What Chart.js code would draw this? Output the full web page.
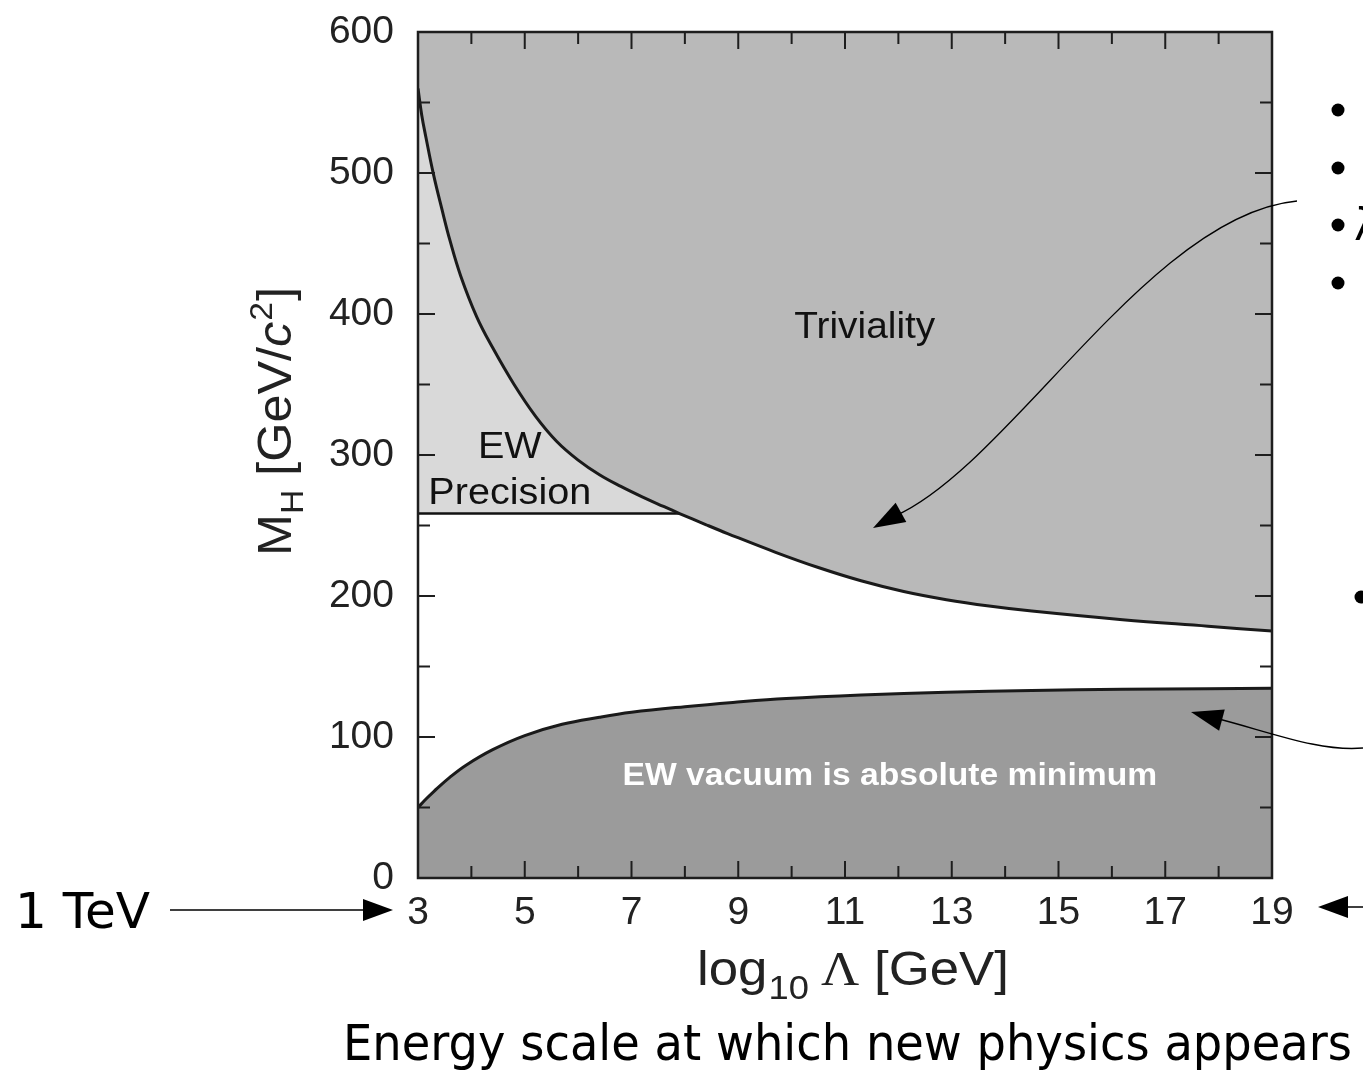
<!DOCTYPE html>
<html>
<head>
<meta charset="utf-8">
<script src="https://cdn.jsdelivr.net/npm/chart.js@4.4.0/dist/chart.umd.min.js"></script>
<style>
html, body { margin: 0; padding: 0; background: #fff; }
</style>
</head>
<body>
<canvas id="myChart" width="1363" height="1070"></canvas>
<script>
// triviality bound (upper curve)
var trivX = [3, 3.07, 3.15, 3.29, 3.45, 3.6, 3.8, 4.1, 4.4, 4.8, 5.2, 5.6, 6.0, 6.4, 6.8, 7.2, 7.6, 7.9, 8.4, 8.8, 9.7, 10.5, 11.3, 12.1, 12.9, 13.7, 14.5, 16.2, 17.8, 19];
var trivY = [560, 541, 525, 499, 474, 452, 427, 398, 376, 350, 327.6, 309.6, 296.4, 286, 277.7, 270.3, 263.5, 258.5, 250.5, 244.3, 231, 220.2, 210.8, 203.2, 197.4, 192.9, 189.3, 183.2, 178.6, 175.1];

// EW precision limit
var ewX = [3, 7.9];
var ewY = [258.5, 258.5];

// vacuum stability bound (lower curve)
var vacX = [3, 3.15, 3.3, 3.6, 3.9, 4.4, 5.0, 5.7, 6.4, 7.0, 8.0, 8.9, 9.9, 11.3, 12.9, 14.5, 16.2, 17.8, 19];
var vacY = [50, 56, 61.5, 71.5, 80, 91, 101, 109, 114, 117.5, 121.5, 124.5, 127.3, 129.8, 131.8, 133, 133.8, 134.3, 134.5];

// axis ticks
var xTicks = [3, 5, 7, 9, 11, 13, 15, 17, 19];
var xMinor = [4, 6, 8, 10, 12, 14, 16, 18];
var yTicks = [0, 100, 200, 300, 400, 500, 600];
var yMinor = [50, 150, 250, 350, 450, 550];

function pts(xs, ys) {
    var out = [];
    for (var i = 0; i < xs.length; i++) out.push({x: xs[i], y: ys[i]});
    return out;
}

function arrowHead(ctx, tx, ty, fx, fy, len, hw) {
    var a = Math.atan2(ty - fy, tx - fx);
    ctx.save();
    ctx.translate(tx, ty);
    ctx.rotate(a);
    ctx.beginPath();
    ctx.moveTo(0, 0);
    ctx.lineTo(-len, -hw);
    ctx.lineTo(-len, hw);
    ctx.closePath();
    ctx.fill();
    ctx.restore();
}

// text squeezed/stretched to a given width, x is the left edge
function fitText(ctx, txt, x, y, font, w) {
    ctx.save();
    ctx.font = font;
    var m = ctx.measureText(txt).width;
    ctx.translate(x, y);
    ctx.scale(w / m, 1);
    ctx.textAlign = 'left';
    ctx.fillText(txt, 0, 0);
    ctx.restore();
}

// centred text with a horizontal stretch
function wideText(ctx, txt, cx, cy, font, sx) {
    ctx.save();
    ctx.font = font;
    ctx.translate(cx, cy);
    ctx.scale(sx, 1);
    ctx.textAlign = 'center';
    ctx.textBaseline = 'middle';
    ctx.fillText(txt, 0, 0);
    ctx.restore();
}

var extras = {
    id: 'extras',
    afterDraw: function(chart) {
        var ctx = chart.ctx;
        var xs = chart.scales.x, ys = chart.scales.y;
        var a = chart.chartArea;
        ctx.save();

        // inside ticks
        ctx.strokeStyle = '#1e1e1e';
        ctx.lineWidth = 2;
        ctx.beginPath();
        yTicks.concat(yMinor).forEach(function(v) {
            var L = yMinor.indexOf(v) >= 0 ? 12 : 17;
            var p = ys.getPixelForValue(v);
            ctx.moveTo(a.left, p); ctx.lineTo(a.left + L, p);
            ctx.moveTo(a.right, p); ctx.lineTo(a.right - L, p);
        });
        xTicks.concat(xMinor).forEach(function(v) {
            var L = xMinor.indexOf(v) >= 0 ? 12 : 17;
            var p = xs.getPixelForValue(v);
            ctx.moveTo(p, a.bottom); ctx.lineTo(p, a.bottom - L);
            ctx.moveTo(p, a.top); ctx.lineTo(p, a.top + L);
        });
        ctx.stroke();

        // frame
        ctx.lineWidth = 2.5;
        ctx.strokeRect(a.left, a.top, a.right - a.left, a.bottom - a.top);

        // region labels
        ctx.fillStyle = '#111';
        wideText(ctx, 'Triviality', xs.getPixelForValue(11.37), ys.getPixelForValue(390), '37px "Liberation Sans"', 1.05);
        wideText(ctx, 'EW', xs.getPixelForValue(4.72), ys.getPixelForValue(305), '36px "Liberation Sans"', 1.1);
        wideText(ctx, 'Precision', xs.getPixelForValue(4.72), ys.getPixelForValue(272), '36px "Liberation Sans"', 1.1);
        ctx.fillStyle = '#fff';
        wideText(ctx, 'EW vacuum is absolute minimum', xs.getPixelForValue(11.84), ys.getPixelForValue(72), 'bold 31px "Liberation Sans"', 1.085);

        // x axis title
        ctx.fillStyle = '#222';
        ctx.textAlign = 'left';
        ctx.textBaseline = 'alphabetic';
        ctx.save();
        ctx.translate(697, 985);
        ctx.scale(1.1, 1);
        var x0 = 0;
        ctx.font = '48px "Liberation Sans"';
        ctx.fillText('log', x0, 0); x0 += ctx.measureText('log').width + 1;
        ctx.font = '33px "Liberation Sans"';
        ctx.fillText('10', x0, 14); x0 += ctx.measureText('10').width + 11;
        ctx.font = '48px "Liberation Serif"';
        ctx.fillText('\u039B', x0, 0); x0 += ctx.measureText('\u039B').width;
        ctx.font = '48px "Liberation Sans"';
        ctx.fillText(' [GeV]', x0, 0);
        ctx.restore();

        // y axis title
        ctx.save();
        ctx.translate(291, 556);
        ctx.rotate(-Math.PI / 2);
        ctx.scale(1.05, 1);
        var t = 0;
        ctx.font = '48px "Liberation Sans"';
        ctx.fillText('M', t, 0); t += ctx.measureText('M').width;
        ctx.font = '32px "Liberation Sans"';
        ctx.fillText('H', t, 12); t += ctx.measureText('H').width;
        ctx.font = '48px "Liberation Sans"';
        ctx.fillText(' [GeV/', t, 0); t += ctx.measureText(' [GeV/').width;
        ctx.font = 'italic 48px "Liberation Sans"';
        ctx.fillText('c', t, 0); t += ctx.measureText('c').width + 1;
        ctx.font = '32px "Liberation Sans"';
        ctx.fillText('2', t, -19); t += ctx.measureText('2').width + 1;
        ctx.font = '48px "Liberation Sans"';
        ctx.fillText(']', t, 0);
        ctx.restore();

        // slide text outside the plot
        ctx.fillStyle = '#000';
        fitText(ctx, '1 TeV', 15, 928, '50px "DejaVu Sans"', 135);
        fitText(ctx, 'Energy scale at which new physics appears', 343, 1060, '50px "DejaVu Sans"', 1009);

        // arrows
        ctx.strokeStyle = '#000';
        ctx.lineWidth = 1.3;
        ctx.beginPath();
        ctx.moveTo(170, 910); ctx.lineTo(366, 910);
        ctx.moveTo(1363, 907); ctx.lineTo(1345, 907);
        ctx.stroke();
        arrowHead(ctx, 393, 910, 170, 910, 30, 11);
        arrowHead(ctx, 1318, 907, 1363, 907, 30, 11);

        ctx.beginPath();
        ctx.moveTo(1297, 201);
        ctx.bezierCurveTo(1150, 215, 1010, 465, 895, 516);
        ctx.stroke();
        arrowHead(ctx, 873, 528, 900, 513, 32, 11);

        ctx.beginPath();
        ctx.moveTo(1363, 748);
        ctx.bezierCurveTo(1320, 752, 1270, 732, 1215, 718);
        ctx.stroke();
        arrowHead(ctx, 1191, 712, 1225, 721, 32, 11);

        // bullets
        [110, 168, 225, 283].forEach(function(y) {
            ctx.beginPath(); ctx.arc(1338, y, 6.5, 0, Math.PI * 2); ctx.fill();
        });
        ctx.beginPath(); ctx.arc(1361, 597, 6.5, 0, Math.PI * 2); ctx.fill();
        ctx.font = '44px "DejaVu Sans"';
        ctx.fillText('\u03BB', 1354, 240);

        ctx.restore();
    }
};

var ctx = document.getElementById('myChart').getContext('2d');
var myChart = new Chart(ctx, {
    type: 'line',
    data: {
        datasets: [{
            label: 'Triviality',
            data: pts(trivX, trivY),
            fill: 'end',
            backgroundColor: '#b9b9b9',
            borderColor: '#1a1a1a',
            borderWidth: 3,
            pointRadius: 0,
            tension: 0.4,
            order: 1
        }, {
            label: 'EW Precision',
            data: pts(ewX, ewY),
            fill: 'end',
            backgroundColor: '#d9d9d9',
            borderColor: '#111',
            borderWidth: 2.5,
            pointRadius: 0,
            order: 2
        }, {
            label: 'EW vacuum is absolute minimum',
            data: pts(vacX, vacY),
            fill: 'origin',
            backgroundColor: '#9b9b9b',
            borderColor: '#1a1a1a',
            borderWidth: 3,
            pointRadius: 0,
            tension: 0.4,
            order: 1
        }]
    },
    options: {
        responsive: false,
        animation: false,
        devicePixelRatio: 1,
        layout: { padding: { left: 0, right: 91, top: 32, bottom: 0 } },
        plugins: { legend: { display: false }, tooltip: { enabled: false } },
        scales: {
            x: {
                type: 'linear',
                min: 3,
                max: 19,
                grid: { display: false },
                border: { display: false },
                afterBuildTicks: function(axis) {
                    axis.ticks = xTicks.map(function(v) { return {value: v}; });
                },
                afterFit: function(axis) {
                    axis.height = 192;
                    axis.paddingLeft = 0;
                    axis.paddingRight = 0;
                },
                ticks: {
                    maxRotation: 0,
                    autoSkip: false,
                    padding: 4,
                    color: '#222',
                    font: { family: 'Liberation Sans', size: 39 }
                }
            },
            y: {
                min: 0,
                max: 600,
                grid: { display: false },
                border: { display: false },
                afterBuildTicks: function(axis) {
                    axis.ticks = yTicks.map(function(v) { return {value: v}; });
                },
                afterFit: function(axis) {
                    axis.width = 418;
                    axis.paddingTop = 0;
                    axis.paddingBottom = 0;
                },
                ticks: {
                    padding: 16,
                    color: '#222',
                    font: { family: 'Liberation Sans', size: 39 }
                }
            }
        }
    },
    plugins: [extras]
});
</script>
</body>
</html>
